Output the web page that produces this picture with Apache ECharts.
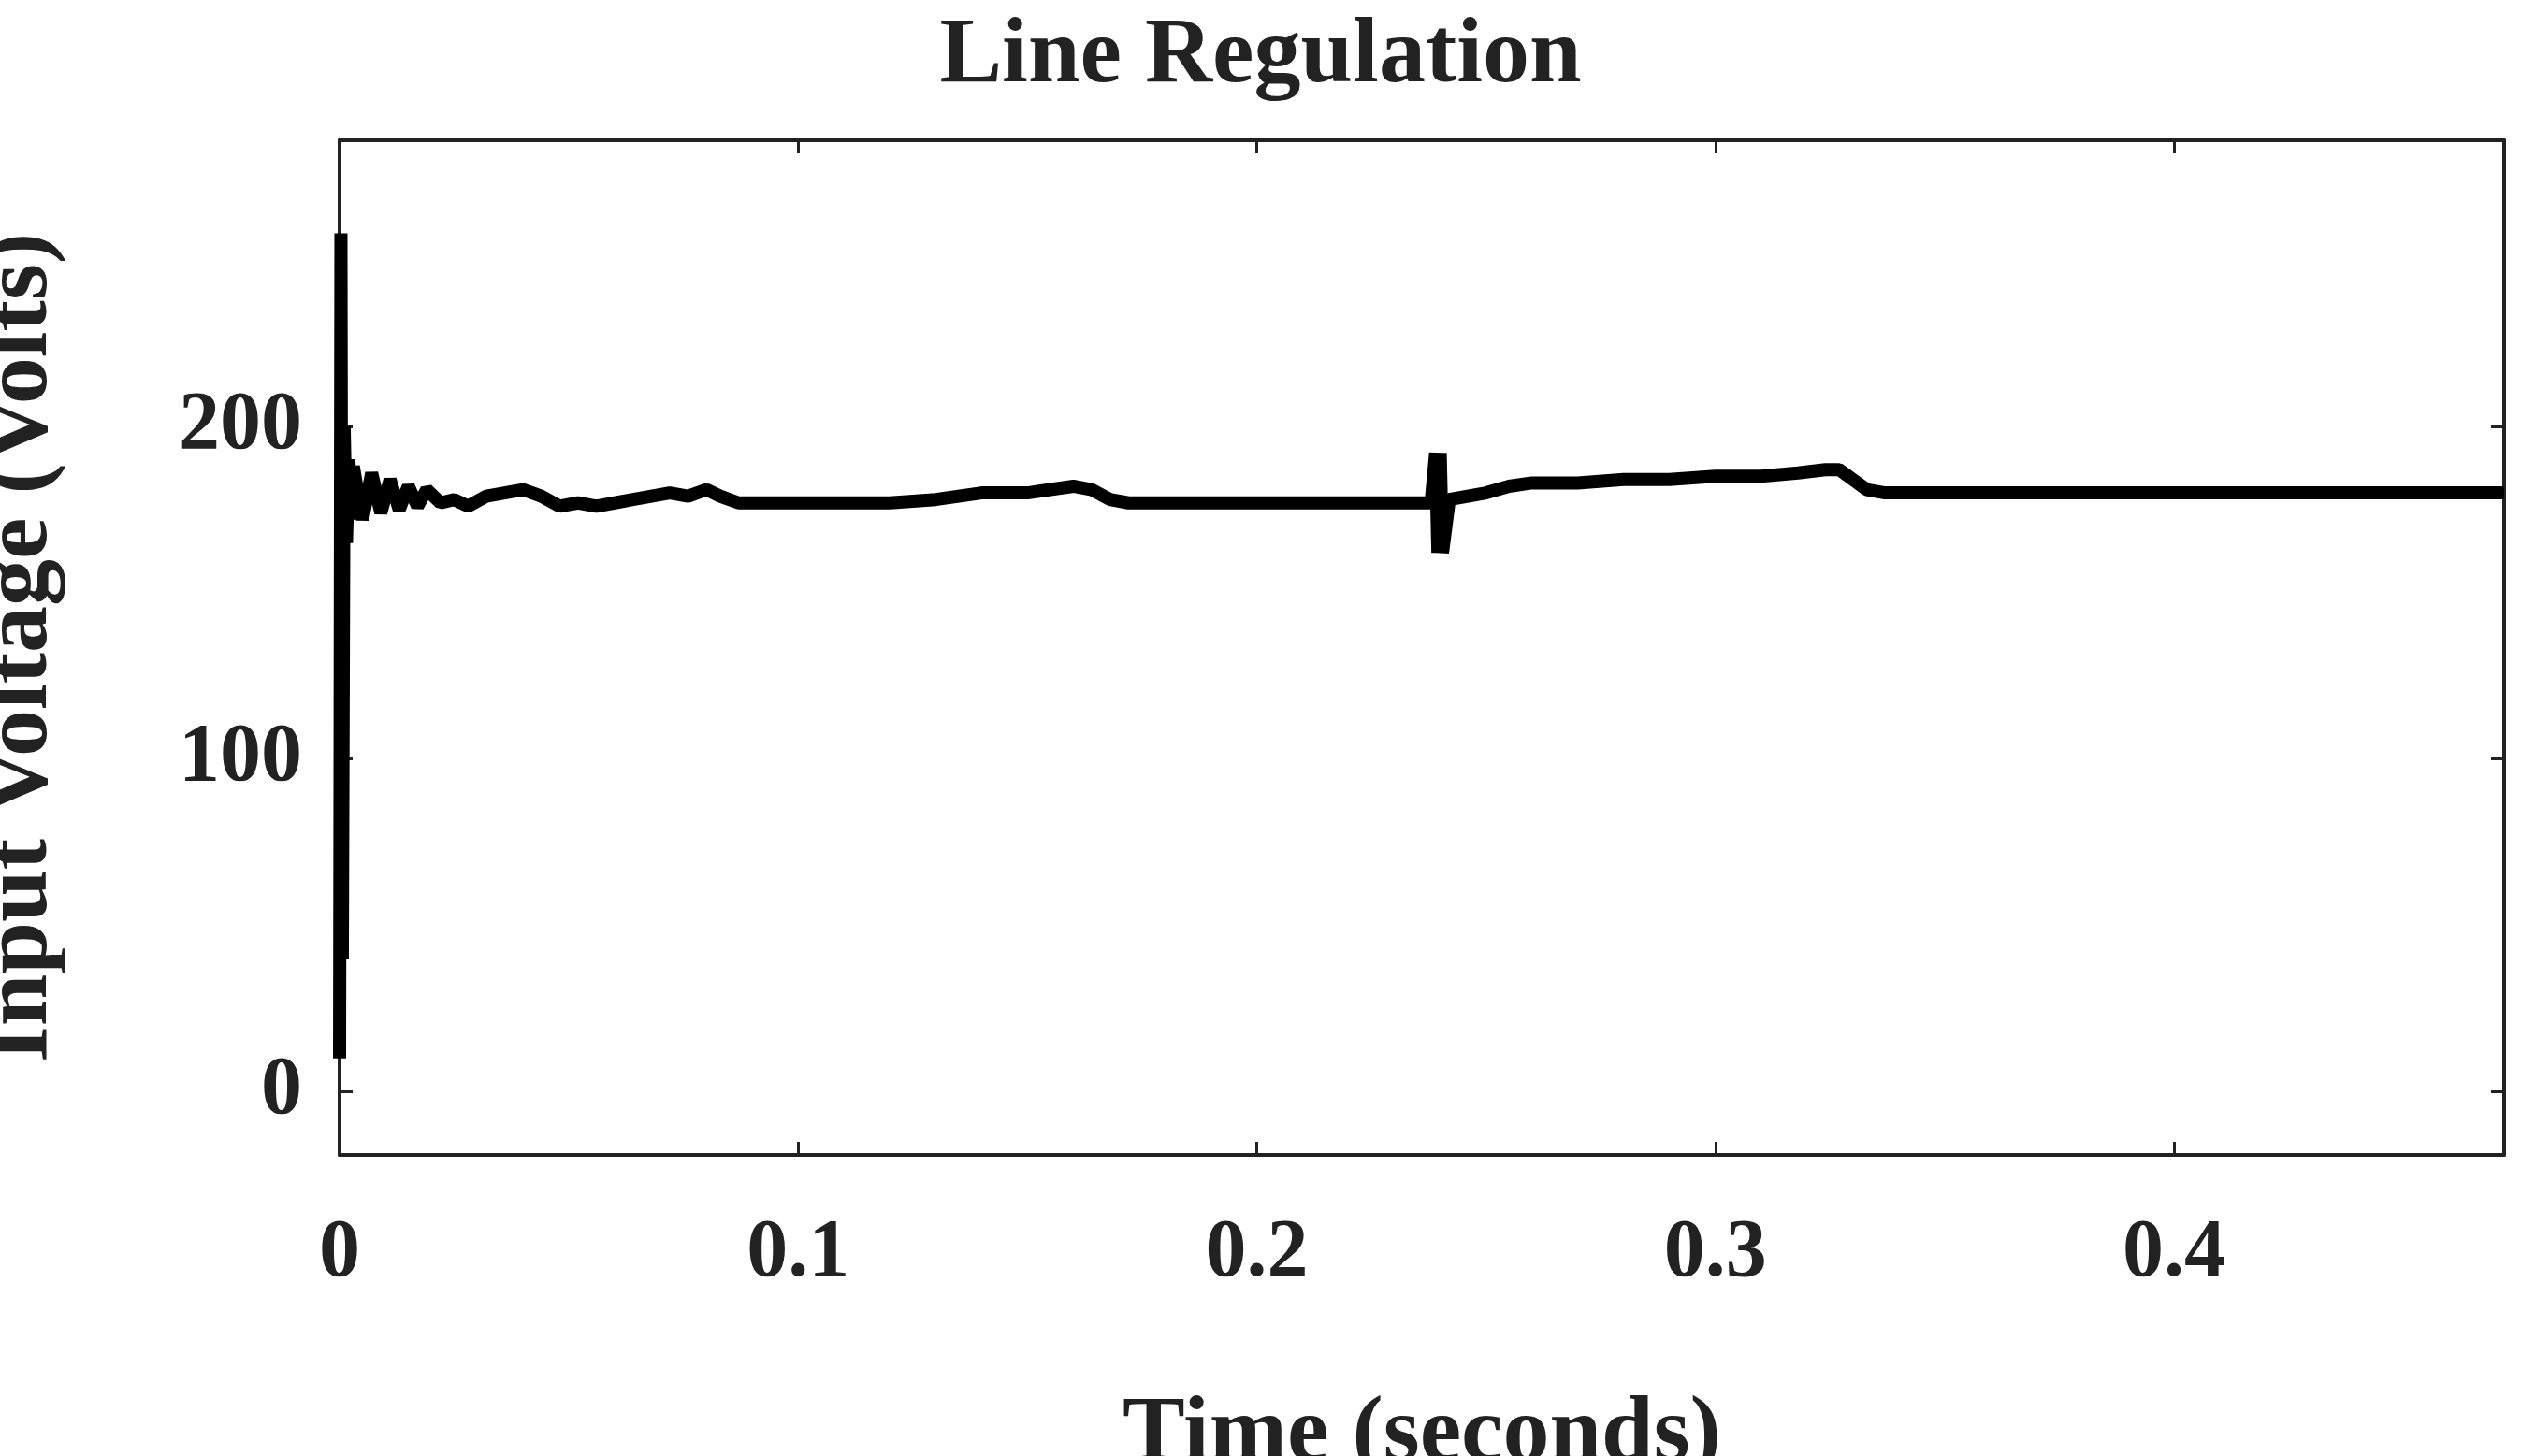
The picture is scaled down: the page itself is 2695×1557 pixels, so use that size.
<!DOCTYPE html>
<html>
<head>
<meta charset="utf-8">
<script src="https://cdn.jsdelivr.net/npm/echarts@6/dist/echarts.min.js"></script>
<style>html,body{margin:0;padding:0;background:#fff}#chart{width:2695px;height:1557px}</style>
</head>
<body>
<div id="chart"></div>
<script>
// time axis ticks
const xTicks = [0, 0.1, 0.2, 0.3, 0.4];
const yTicks = [0, 100, 200];

// start-up transient at t=0
const startTimes = [0, 0.0003, 0.0006, 0.001, 0.0015, 0.002, 0.003];
const startVolts = [10, 258, 40, 200, 165, 190, 172];

const times = [0.003, 0.005, 0.007, 0.009, 0.011, 0.013, 0.015, 0.017, 0.019, 0.022, 0.025, 0.028, 0.032, 0.036, 0.04, 0.044,
  0.048, 0.052, 0.056, 0.06, 0.064, 0.068, 0.072, 0.076, 0.08, 0.083, 0.087, 0.092, 0.1, 0.11, 0.12, 0.13, 0.135, 0.14,
  0.145, 0.15, 0.155, 0.16, 0.164, 0.168, 0.172, 0.176, 0.185, 0.195, 0.205, 0.215, 0.225, 0.235, 0.238, 0.239, 0.2395,
  0.240, 0.2405, 0.242, 0.246, 0.25, 0.255, 0.26, 0.27, 0.28, 0.29, 0.3, 0.31, 0.318, 0.324, 0.327, 0.33, 0.333, 0.337,
  0.345, 0.36, 0.38, 0.4, 0.42, 0.44, 0.46, 0.472];
const volts = [188, 172, 186, 174, 184, 175, 182, 176, 181, 177, 178, 176, 179, 180, 181, 179,
  176, 177, 176, 177, 178, 179, 180, 179, 181, 179, 177, 177, 177, 177, 177, 178, 179, 180,
  180, 180, 181, 182, 181, 178, 177, 177, 177, 177, 177, 177, 177, 177, 177, 192, 162,
  192, 162, 178, 179, 180, 182, 183, 183, 184, 184, 185, 185, 186, 187, 187, 184, 181, 180,
  180, 180, 180, 180, 180, 180, 180, 180];

const pts = startTimes.map((t, i) => [t, startVolts[i]]).concat(times.map((t, i) => [t, volts[i]]));

const font = 'Liberation Serif';
const axisLine = {show: true, onZero: false, lineStyle: {color: '#222', width: 4}};
const ticks = {show: true, inside: true, length: 14, lineStyle: {color: '#222', width: 3}};

const chart = echarts.init(document.getElementById('chart'));
chart.setOption({
  animation: false,
  title: {text: 'Line Regulation', left: 'center', top: 6,
    textStyle: {fontFamily: font, fontWeight: 'bold', fontSize: 100, color: '#222'}},
  grid: {left: 363, right: 18, top: 150, bottom: 322, outerBoundsMode: 'none', containLabel: false},
  xAxis: [
    {type: 'value', min: 0, max: 0.472, interval: 0.1, position: 'bottom',
      name: 'Time (seconds)', nameLocation: 'middle', nameGap: 250,
      nameTextStyle: {fontFamily: font, fontWeight: 'bold', fontSize: 100, color: '#222'},
      axisLine: axisLine, axisTick: ticks, splitLine: {show: false},
      axisLabel: {margin: 62, fontFamily: font, fontWeight: 'bold', fontSize: 88, color: '#222',
        showMaxLabel: false, formatter: v => xTicks.includes(+v.toFixed(1)) ? String(+v.toFixed(1)) : ''}},
    {type: 'value', min: 0, max: 0.472, interval: 0.1, position: 'top',
      axisLine: axisLine, axisTick: ticks, axisLabel: {show: false}, splitLine: {show: false}}
  ],
  yAxis: [
    {type: 'value', min: -19, max: 286, position: 'left',
      name: 'Input Voltage (Volts)', nameLocation: 'middle', nameGap: 290,
      nameTextStyle: {fontFamily: font, fontWeight: 'bold', fontSize: 100, color: '#222'},
      axisLine: axisLine, axisTick: {...ticks, customValues: yTicks}, splitLine: {show: false},
      axisLabel: {margin: 40, fontFamily: font, fontWeight: 'bold', fontSize: 88, color: '#222',
        customValues: yTicks}},
    {type: 'value', min: -19, max: 286, position: 'right',
      axisLine: axisLine, axisTick: {...ticks, customValues: yTicks}, axisLabel: {show: false}, splitLine: {show: false}}
  ],
  series: [{
    type: 'line', data: pts, showSymbol: false, xAxisIndex: 0, yAxisIndex: 0,
    lineStyle: {color: '#000', width: 14}
  }]
});
</script>
</body>
</html>
